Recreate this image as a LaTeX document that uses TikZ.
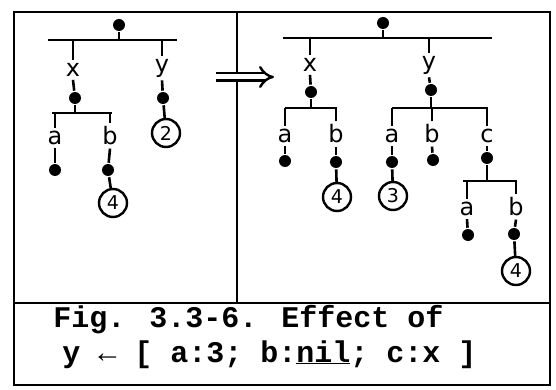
\documentclass[tikz,border=0pt]{standalone}
\usepackage{fontspec}
\usetikzlibrary{arrows.meta}
\newfontfamily\capfont{Liberation Mono}
\newfontfamily\labfont{DejaVu Sans}
\begin{document}
\begin{tikzpicture}[x=1pt,y=-1pt,line width=2.6pt,
  lab/.style={font=\labfont\fontsize{24}{24}\selectfont, inner sep=2pt},
  dot/.style={circle, fill=black, minimum size=12pt, inner sep=0pt},
  num/.style={circle, draw, line width=2.4pt, minimum size=28pt, inner sep=0pt, font=\labfont\fontsize{19}{19}\selectfont},
  captext/.style={font=\capfont\bfseries\fontsize{30}{30}\selectfont, inner sep=0pt, anchor=base west}]
\useasboundingbox (0,0) rectangle (556,390);
% frame
\draw (14,12) rectangle (550,385);
\draw (237,12) -- (237,303);
\draw (14,303) -- (550,303);
% ---------- left tree ----------
\node[dot] (R1) at (119,25) {};
\coordinate (B1l) at (48,40); \coordinate (B1r) at (177,40);
\draw (B1l) -- (B1r); \draw (R1) -- (R1 |- B1l);
\node[lab] (Lx) at (73,70) {x};
\node[lab] (Ly) at (162,68) {y};
\draw (Lx |- B1l) -- (Lx.north); \draw (Ly |- B1l) -- (Ly.north);
\node[dot] (Dx) at (75,98) {};
\node[dot] (Dy) at (163,98) {};
\draw (Lx.south) -- (Dx); \draw (Ly.south) -- (Dy);
\coordinate (B2l) at (52,113); \coordinate (B2r) at (112,113);
\draw (B2l) -- (B2r); \draw (Dx) -- (Dx |- B2l);
\node[lab] (La) at (55,138) {a};
\node[lab] (Lb) at (110,136) {b};
\draw (La |- B2l) -- (La.north); \draw (Lb |- B2l) -- (Lb.north);
\node[dot] (Da) at (55,170) {};
\node[dot] (Db) at (108,170) {};
\draw (La.south) -- (Da); \draw (Lb.south) -- (Db);
\node[num] (C2) at (166,133) {2};
\node[num] (C4) at (113,203) {4};
\draw (Dy) -- (C2); \draw (Db) -- (C4);
% arrow
\coordinate (A1) at (216,77); \coordinate (A2) at (274,77);
\draw[double, double distance=5pt, line width=2.4pt, -{Implies}] (A1) -- (A2);
% ---------- right tree ----------
\node[dot] (R2) at (383,23) {};
\coordinate (E1l) at (283,38); \coordinate (E1r) at (492,38);
\draw (E1l) -- (E1r); \draw (R2) -- (R2 |- E1l);
\node[lab] (Mx) at (310,65) {x};
\node[lab] (My) at (429,65) {y};
\draw (Mx |- E1l) -- (Mx.north); \draw (My |- E1l) -- (My.north);
\node[dot] (Ex) at (311,92) {};
\node[dot] (Ey) at (431,90) {};
\draw (Mx.south) -- (Ex); \draw (My.south) -- (Ey);
\coordinate (E2l) at (285,108); \coordinate (E2r) at (337,108);
\coordinate (E3l) at (392,108); \coordinate (E3r) at (488,108);
\draw (E2l) -- (E2r); \draw (Ex) -- (Ex |- E2l);
\draw (E3l) -- (E3r); \draw (Ey) -- (Ey |- E3l);
\node[lab] (Ma1) at (285,136) {a};
\node[lab] (Mb1) at (336,134) {b};
\node[lab] (Ma2) at (392,136) {a};
\node[lab] (Mb2) at (432,134) {b};
\node[lab] (Mc2) at (487,136) {c};
\foreach \n in {Ma1,Mb1} \draw (\n |- E2l) -- (\n.north);
\foreach \n in {Ma2,Mb2,Mc2} \draw (\n |- E3l) -- (\n.north);
\node[dot] (Fa1) at (285,161) {};
\node[dot] (Fb1) at (336,162) {};
\node[dot] (Fa2) at (392,162) {};
\node[dot] (Fb2) at (433,160) {};
\node[dot] (Fc2) at (487,158) {};
\draw (Ma1.south) -- (Fa1); \draw (Mb1.south) -- (Fb1);
\draw (Ma2.south) -- (Fa2); \draw (Mb2.south) -- (Fb2);
\draw (Mc2.south) -- (Fc2);
\node[num] (K4a) at (337,197) {4};
\node[num] (K3) at (393,196) {3};
\draw (Fb1) -- (K4a); \draw (Fa2) -- (K3);
\coordinate (E4l) at (463,181); \coordinate (E4r) at (517,181);
\draw (E4l) -- (E4r); \draw (Fc2) -- (Fc2 |- E4l);
\node[lab] (Na) at (467,209) {a};
\node[lab] (Nb) at (516,207) {b};
\draw (Na |- E4l) -- (Na.north); \draw (Nb |- E4l) -- (Nb.north);
\node[dot] (Ga) at (468,235) {};
\node[dot] (Gb) at (514,234) {};
\draw (Na.south) -- (Ga); \draw (Nb.south) -- (Gb);
\node[num] (K4b) at (516,271) {4};
\draw (Gb) -- (K4b);
% ---------- caption ----------
\node[captext] (T1) at (52,327) {Fig. 3.3-6.  Effect of};
\node[captext] (T2) at (61,362) {y ← [ a:3; b:\underline{nil}; c:x ]};
\end{tikzpicture}
\end{document}
